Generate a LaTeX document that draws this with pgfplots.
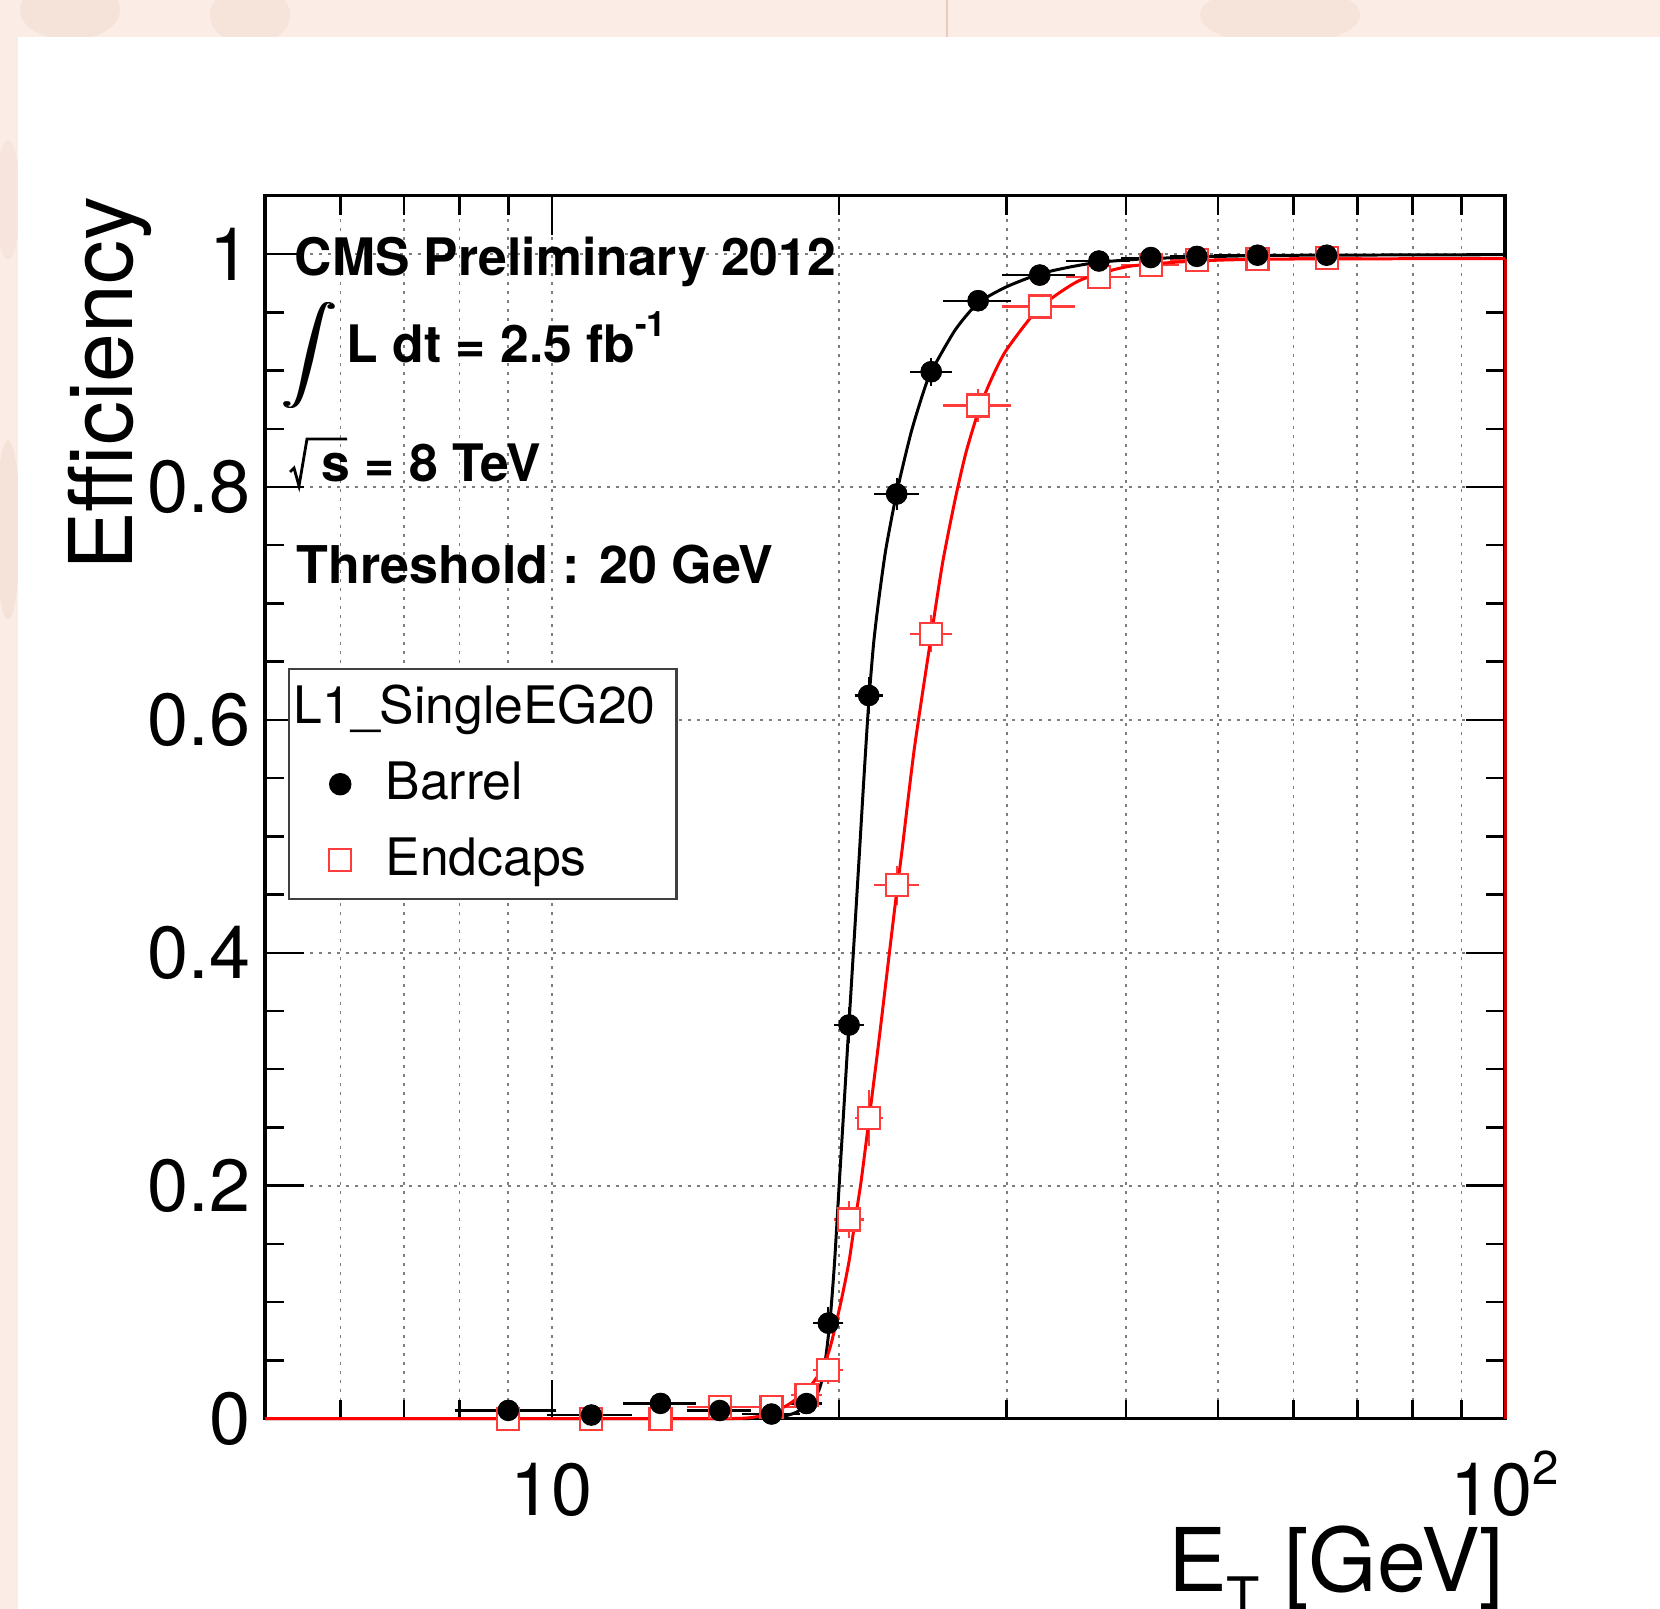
\documentclass[border=0pt]{standalone}
\usepackage{fontspec}
\setmainfont{TeX Gyre Heros}
\usepackage{graphicx}
\usepackage{pgfplots}
\usepackage{pgfplotstable}
\pgfplotsset{compat=1.18}
\definecolor{bgpink}{RGB}{251,237,230}
\definecolor{blob}{RGB}{214,166,146}
\definecolor{gridgray}{RGB}{125,125,125}
\definecolor{sqred}{RGB}{255,60,60}

\pgfplotstableread{
x    y      exm  exp  ey
9    0.007  1    1    0.004
11   0.003  1    1    0.003
13   0.013  1    1    0.005
15   0.007  1    1    0.004
17   0.004  1    1    0.003
18.5 0.013  0.5  0.5  0.005
19.5 0.082  0.5  0.5  0.010
20.5 0.338  0.5  0.5  0.012
21.5 0.621  0.5  0.5  0.012
23   0.794  1    1    0.010
25   0.899  1    1    0.008
28   0.960  2    2    0.005
32.5 0.982  2.5  2.5  0.004
37.5 0.994  2.5  2.5  0.003
42.5 0.997  2.5  2.5  0.002
47.5 0.998  2.5  2.5  0.002
55   0.999  5    5    0.002
65   0.999  5    5    0.002
}\barrel

\pgfplotstableread{
x    y      exm  exp  ey
9    0.000  1    1    0.003
11   0.000  1    1    0.003
13   0.000  1    1    0.003
15   0.010  1    1    0.005
17   0.010  1    1    0.005
18.5 0.020  0.5  0.5  0.006
19.5 0.042  0.5  0.5  0.008
20.5 0.171  0.5  0.5  0.012
21.5 0.258  0.5  0.5  0.020
23   0.458  1    1    0.013
25   0.674  1    1    0.012
28   0.870  2    2    0.010
32.5 0.955  2.5  2.5  0.007
37.5 0.980  2.5  2.5  0.005
42.5 0.991  2.5  2.5  0.004
47.5 0.9946 2.5  2.5  0.003
55   0.9955 5    5    0.003
65   0.9965 5    5    0.003
}\endcaps

\pgfplotsset{
  barrelstyle/.style={black, only marks, mark=*, mark size=1mm,
    error bars/.cd, x dir=both, x explicit, y dir=both, y explicit,
    error bar style={line width=0.6pt, black},
    error mark options={mark size=0.45mm, line width=0.6pt, black}},
}

\begin{document}
\begin{tikzpicture}
\path[use as bounding box, clip] (0,0) rectangle (16.6cm,-16.09cm);
\begin{scope}[x=0.1mm,y=-0.1mm]
  \fill[bgpink] (0,0) rectangle (1660,1609);
  \fill[blob, opacity=0.15] (70,10) ellipse (5mm and 3mm);
  \fill[blob, opacity=0.12] (250,15) ellipse (4mm and 3mm);
  \fill[blob, opacity=0.12] (1280,15) ellipse (8mm and 3mm);
  \fill[blob, opacity=0.15] (8,530) ellipse (1.2mm and 9mm);
  \fill[blob, opacity=0.10] (8,200) ellipse (1.2mm and 6mm);
  \draw[blob, opacity=0.5, line width=0.5pt] (947,0) -- (947,37);
  \fill[white] (18,37) rectangle (1660,1609);
\end{scope}

\begin{axis}[
  at={(2.65cm,-14.186cm)}, anchor=south west,
  scale only axis, width=12.40cm, height=12.227cm,
  xmode=log, log basis x=10,
  xmin=5, xmax=100, ymin=0, ymax=1.05,
  xtick={10,100},
  xticklabels={10, 10\raisebox{0.42em}{\fontsize{13.5}{13.5}\selectfont 2}},
  minor xtick={5,6,7,8,9,20,30,40,50,60,70,80,90},
  ytick={0,0.2,0.4,0.6,0.8,1},
  yticklabels={0,0.2,0.4,0.6,0.8,1},
  minor ytick={0.05,0.1,0.15,0.25,0.3,0.35,0.45,0.5,0.55,0.65,0.7,0.75,0.85,0.9,0.95},
  xmajorgrids=true, xminorgrids=true, ymajorgrids=true, yminorgrids=false,
  grid style={gridgray, line width=0.5pt, dash pattern=on 0.3mm off 0.6mm},
  major tick length=3.9mm, minor tick length=1.9mm,
  tick align=inside,
  tick style={black, line width=0.7pt},
  axis line style={line width=0.9pt},
  tick label style={font=\fontsize{21}{25}\selectfont},
  xticklabel style={anchor=base, yshift=-9.7mm, inner sep=0pt},
  yticklabel style={anchor=east, inner sep=0pt, xshift=-1.4mm},
  ylabel={Efficiency},
  ylabel style={at={(axis description cs:-0.10726,1)}, anchor=base east, inner sep=0pt, font=\fontsize{25}{30}\selectfont},
  xlabel={E\raisebox{-0.28em}{\fontsize{15.5}{15.5}\selectfont T} [GeV]},
  xlabel style={at={(axis description cs:1,0)}, anchor=base east, inner sep=0pt, yshift=-17.3mm, font=\fontsize{25}{30}\selectfont},
  clip=false,
  legend style={at={(axis description cs:0.01855,0.6139)}, anchor=north west,
    draw=black!75, line width=0.7pt, fill=white,
    font=\fontsize{14.7}{17}\selectfont,
    inner xsep=2.1mm, inner ysep=1.4mm, row sep=2.6mm, column sep=3.45mm,
    nodes={inner sep=0pt, text height=4.0mm, text depth=1.0mm}},
  legend cell align=left,
]
\addlegendimage{empty legend}
\addlegendentry{\hspace*{-9.2mm}L1\_SingleEG20}

\addplot[barrelstyle] table[x=x, y=y, x error minus=exm, x error plus=exp, y error=ey] {\barrel};
\addlegendentry{Barrel}

\addplot[sqred, only marks, mark=square*, mark size=1.1mm, mark options={line width=0.6pt, draw=sqred, fill=white},
  error bars/.cd, x dir=both, x explicit, y dir=both, y explicit,
  error bar style={line width=0.6pt, sqred},
  error mark options={mark size=0.45mm, line width=0.6pt, sqred}]
  table[x=x, y=y, x error minus=exm, x error plus=exp, y error=ey] {\endcaps};
\addlegendentry{Endcaps}

% barrel points again, on top of the endcap squares
\addplot[forget plot, barrelstyle] table[x=x, y=y, x error minus=exm, x error plus=exp, y error=ey] {\barrel};

\addplot[black, line width=0.85pt, smooth, tension=0.4, forget plot] coordinates {
(5,0) (10,0) (15,0) (16,0) (16.5,0.0005) (17,0.001) (17.5,0.002) (18,0.005)
(18.5,0.011) (19,0.022) (19.2,0.033) (19.4,0.055) (19.6,0.088) (19.8,0.135)
(20,0.195) (20.25,0.268) (20.5,0.34) (20.75,0.41) (21,0.48) (21.25,0.55)
(21.5,0.615) (21.75,0.665) (22,0.70) (22.4,0.746) (23,0.795) (23.8,0.846)
(24.5,0.88) (25,0.899) (26.5,0.935) (28,0.958) (30,0.972) (32.5,0.983)
(35,0.989) (37.5,0.993) (42,0.996) (50,0.998) (60,0.999) (100,0.9995)
};
\addplot[red, line width=0.85pt, smooth, tension=0.4, forget plot] coordinates {
(5,0) (10,0) (15,0) (16,0.0005) (16.5,0.002) (17,0.005) (17.7,0.012)
(18.5,0.024) (19.2,0.042) (19.6,0.062) (20.1,0.10) (20.5,0.135) (20.8,0.17)
(21.1,0.203) (21.5,0.255) (22,0.32) (22.6,0.40) (23,0.452) (23.3,0.488)
(24,0.575) (25,0.672) (25.7,0.735) (26.5,0.79) (27.2,0.83) (28.1,0.868)
(29,0.895) (30,0.918) (32.4,0.953) (35.7,0.977) (40,0.989) (45,0.993)
(51,0.995) (60,0.9958) (100,0.9962)
};
\addplot[red!80!black, line width=0.85pt, forget plot] coordinates {(100,0.9962) (100,0)};
\end{axis}

\begin{scope}[x=0.1mm,y=-0.1mm]
  \node[anchor=base west, inner sep=0pt, font=\fontsize{14.7}{17}\selectfont\bfseries] at (294,276) {CMS Preliminary 2012};
  \node[anchor=center, inner sep=0pt] at (308.5,356) {\resizebox*{5.6mm}{10.6mm}{$\displaystyle\int$}};
  \node[anchor=center, inner sep=0pt] at (310.5,356) {\resizebox*{5.6mm}{10.6mm}{$\displaystyle\int$}};
  \node[anchor=base west, inner sep=0pt, font=\fontsize{14.7}{17}\selectfont\bfseries] at (346,363) {L dt = 2.5 fb\raisebox{2.6mm}{\fontsize{10}{10}\selectfont -1}};
  \draw[line width=0.8pt] (290,472) -- (294,468) -- (299,486) -- (307,439) -- (347,439);
  \node[anchor=base west, inner sep=0pt, font=\fontsize{14.7}{17}\selectfont\bfseries] at (321,482) {s = 8 TeV};
  \node[anchor=base west, inner sep=0pt, font=\fontsize{14.8}{17}\selectfont\bfseries] at (296,583) {Threshold : 20 GeV};
\end{scope}
\end{tikzpicture}
\end{document}
